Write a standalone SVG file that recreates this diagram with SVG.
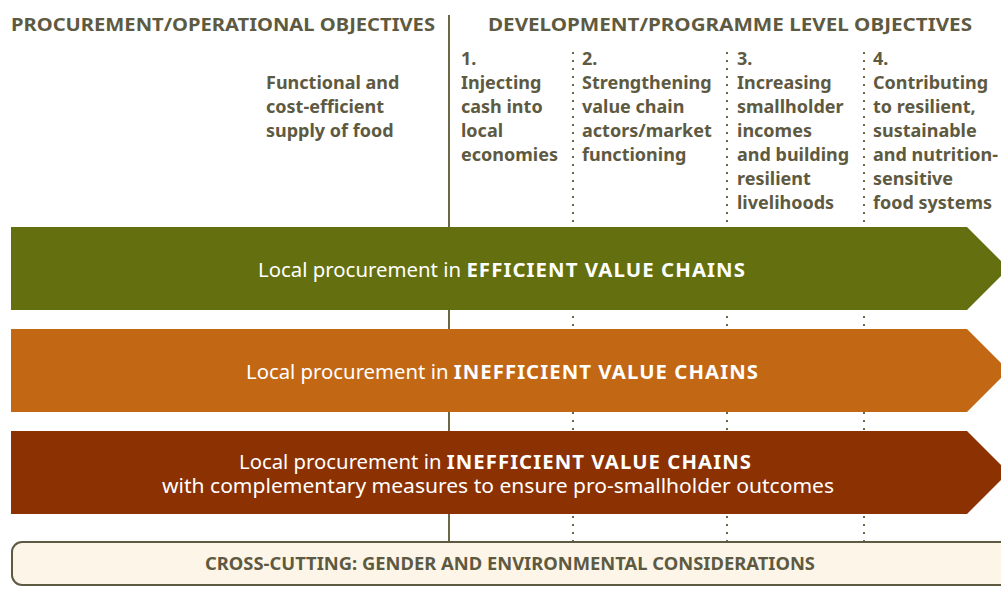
<svg xmlns="http://www.w3.org/2000/svg" width="1001" height="596" viewBox="0 0 1001 596">
<style>
.h{font-family:"Noto Sans","Open Sans",sans-serif;font-weight:700;font-size:18px;fill:#5e5a42}
.c{font-family:"Noto Sans","Open Sans",sans-serif;font-weight:700;font-size:18px;fill:#5e5a42}
.a{font-family:"Noto Sans","Open Sans",sans-serif;font-size:19px;fill:#ffffff}
.a .b{font-weight:700;letter-spacing:1px}
.sol{stroke:#6b6845;stroke-width:2;fill:none}
.dot{stroke:#6b6845;stroke-width:2;fill:none;stroke-dasharray:2 6}
</style>
<rect width="1001" height="596" fill="#ffffff"/>
<g id="connectors">
<line class="sol" x1="449" y1="15" x2="449" y2="541"/>
<line class="dot" x1="573" y1="52" x2="573" y2="541"/>
<line class="dot" x1="727" y1="52" x2="727" y2="541"/>
<line class="dot" x1="864" y1="52" x2="864" y2="541"/>
</g>
<g id="headers">
<text class="h" x="11" y="31" textLength="424" lengthAdjust="spacingAndGlyphs">PROCUREMENT/OPERATIONAL OBJECTIVES</text>
<text class="h" x="488" y="31" textLength="484" lengthAdjust="spacingAndGlyphs">DEVELOPMENT/PROGRAMME LEVEL OBJECTIVES</text>
</g>
<g id="procurement-objective">
<text class="c"><tspan x="266" y="89">Functional and</tspan><tspan x="266" y="113">cost-efficient</tspan><tspan x="266" y="137">supply of food</tspan></text>
</g>
<g id="objective-1">
<text class="c"><tspan x="461" y="65">1.</tspan><tspan x="461" y="89">Injecting</tspan><tspan x="461" y="113">cash into</tspan><tspan x="461" y="137">local</tspan><tspan x="461" y="161">economies</tspan></text>
</g>
<g id="objective-2">
<text class="c"><tspan x="582" y="65">2.</tspan><tspan x="582" y="89">Strengthening</tspan><tspan x="582" y="113">value chain</tspan><tspan x="582" y="137">actors/market</tspan><tspan x="582" y="161">functioning</tspan></text>
</g>
<g id="objective-3">
<text class="c"><tspan x="737" y="65">3.</tspan><tspan x="737" y="89">Increasing</tspan><tspan x="737" y="113">smallholder</tspan><tspan x="737" y="137">incomes</tspan><tspan x="737" y="161">and building</tspan><tspan x="737" y="185">resilient</tspan><tspan x="737" y="209">livelihoods</tspan></text>
</g>
<g id="objective-4">
<text class="c"><tspan x="873" y="65">4.</tspan><tspan x="873" y="89">Contributing</tspan><tspan x="873" y="113">to resilient,</tspan><tspan x="873" y="137">sustainable</tspan><tspan x="873" y="161">and nutrition-</tspan><tspan x="873" y="185">sensitive</tspan><tspan x="873" y="209">food systems</tspan></text>
</g>
<g id="arrow-efficient">
<polygon points="11,227 967,227 1008.5,268.5 967,310 11,310" fill="#647010"/>
<text class="a" x="258" y="277" textLength="488" lengthAdjust="spacingAndGlyphs">Local procurement in <tspan class="b">EFFICIENT VALUE CHAINS</tspan></text>
</g>
<g id="arrow-inefficient">
<polygon points="11,329 967,329 1008.5,370.5 967,412 11,412" fill="#c26815"/>
<text class="a" x="246" y="379" textLength="513" lengthAdjust="spacingAndGlyphs">Local procurement in <tspan class="b">INEFFICIENT VALUE CHAINS</tspan></text>
</g>
<g id="arrow-complementary">
<polygon points="11,431 967,431 1008.5,472.5 967,514 11,514" fill="#8c3102"/>
<text class="a" x="239" y="469" textLength="513" lengthAdjust="spacingAndGlyphs">Local procurement in <tspan class="b">INEFFICIENT VALUE CHAINS</tspan></text>
<text class="a" x="162" y="493" textLength="672" lengthAdjust="spacingAndGlyphs">with complementary measures to ensure pro-smallholder outcomes</text>
</g>
<g id="cross-cutting">
<rect x="12" y="542" width="1000" height="43" rx="10" ry="10" fill="#fdf6e8" stroke="#5e5a42" stroke-width="2"/>
<text class="c" x="510" y="570" text-anchor="middle" textLength="610" lengthAdjust="spacingAndGlyphs">CROSS-CUTTING: GENDER AND ENVIRONMENTAL CONSIDERATIONS</text>
</g>
</svg>
